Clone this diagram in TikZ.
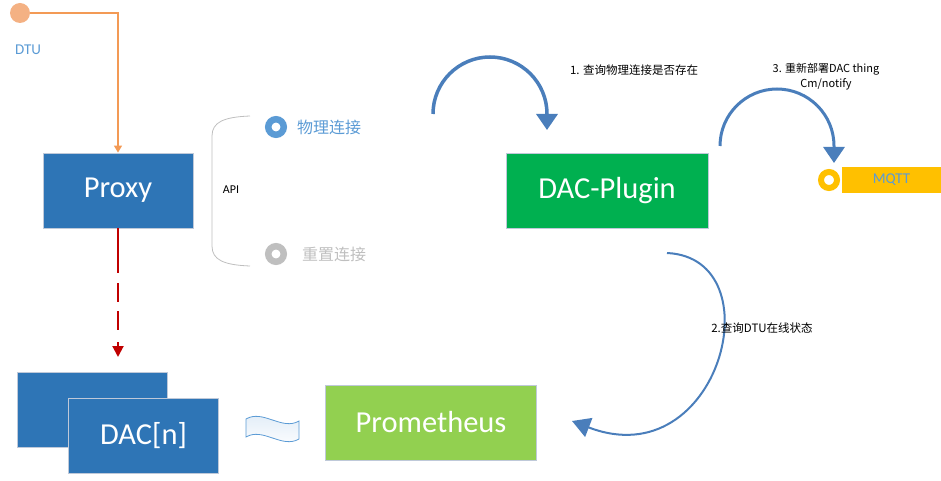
\documentclass[tikz,border=0pt]{standalone}
\usepackage{fontspec}
\setmainfont{Carlito}
\newfontfamily\cjk{Noto Sans CJK SC}
\usetikzlibrary{arrows.meta}
\usetikzlibrary{positioning}
\definecolor{boxblue}{HTML}{2E75B6}
\definecolor{boxedge}{HTML}{BFC9D9}
\definecolor{plugingreen}{HTML}{00B050}
\definecolor{promgreen}{HTML}{92D050}
\definecolor{arcblue}{HTML}{4A7EBB}
\definecolor{textblue}{HTML}{5B9BD5}
\definecolor{lightgray}{HTML}{BFBFBF}
\definecolor{dtuorange}{HTML}{F4B183}
\definecolor{lineorange}{HTML}{F39A55}
\definecolor{darkred}{HTML}{C00000}
\definecolor{mqttyellow}{HTML}{FFC000}
\tikzset{box/.style = {draw = boxedge, line width = 0.8, minimum width = 150, minimum height = 75, inner sep = 0, text = white, font = \fontsize{30.5}{36}\selectfont}}
\tikzset{ring/.style = {circle, inner sep = 0, minimum size = 15.5, line width = 6.5}}
\tikzset{bigarc/.style = {draw = arcblue, line width = 3.5, -{Triangle[length = 16pt, width = 21pt]}}}
\tikzset{note/.style = {inner sep = 0, font = \cjk\fontsize{11.5}{14}\selectfont}}

\begin{document}
\begin{tikzpicture}[x = 1pt, y = -1pt]

      \useasboundingbox (0, 0) rectangle (941, 481);

      \node [circle, fill = dtuorange, inner sep = 0, minimum size = 20] (dtu) at (20, 13) {};
      \node [inner sep = 0, text = textblue, font = \fontsize{15}{18}\selectfont] (dtulabel) at (28, 50) {DTU};

      \node [box, fill = boxblue] (proxy) at (118, 190.5) {Proxy};
      \node [box, fill = boxblue] (dacback) at (92, 409.5) {};
      \node [box, fill = boxblue] (dac) at (143.5, 435.5) {DAC[n]};
      \node [box, fill = promgreen, minimum width = 211] (prom) at (431, 422.5) {Prometheus};
      \node [box, fill = plugingreen, minimum width = 202] (plugin) at (607, 190.5) {DAC-Plugin};

      \coordinate (dacin) at (118, 357);
      \draw [lineorange, line width = 1.2, -{Triangle[length = 7pt, width = 8pt]}] (dtu.east) -| (proxy.north);
      \draw [darkred, line width = 2, dash pattern = on 45pt off 10pt on 19pt off 9pt on 19pt off 12pt, -{Triangle[length = 11pt, width = 11pt]}] (proxy.south) -- (dacin);

      \draw [draw = lightgray, line width = 0.8] (250, 116) .. controls (224, 117) and (212, 122) .. (212, 136) -- (212, 246) .. controls (212, 260) and (224, 265) .. (250, 266);
      \node [inner sep = 0, font = \fontsize{12}{14}\selectfont] (api) at (231, 190) {API};
      \node [ring, draw = textblue] (phys) at (276, 127) {};
      \node [inner sep = 0, text = textblue, font = \cjk\fontsize{16}{19}\selectfont, right = 10pt of phys] (physlabel) {物理连接};
      \node [ring, draw = lightgray] (reset) at (276, 254) {};
      \node [inner sep = 0, text = lightgray, font = \cjk\fontsize{16}{19}\selectfont, right = 15pt of reset] (resetlabel) {重置连接};

      \draw [draw = textblue, line width = 0.8, top color = textblue!20, bottom color = white] (246, 419) .. controls (263, 409) and (282, 431) .. (299, 421) -- (299, 439) .. controls (282, 449) and (263, 427) .. (246, 437) -- cycle;

      \node [ring, draw = mqttyellow, minimum size = 16, line width = 6] (mqtt) at (829, 180) {};
      \node [fill = mqttyellow, inner sep = 0, minimum width = 99, minimum height = 25, text = textblue, font = \fontsize{15}{18}\selectfont] (mqttbar) at (891.5, 180) {MQTT};

      \coordinate (arc1) at (433, 114);
      \coordinate (arc3) at (720, 146);
      \coordinate (arc2s) at (667, 253);
      \coordinate (arc2e) at (572, 421);
      \draw [bigarc] (arc1) arc [start angle = 180, end angle = 360, radius = 57] -- ++(0, 16);
      \draw [bigarc, line width = 3] (arc3) arc [start angle = 180, end angle = 360, radius = 57] -- ++(0, 17);
      \draw [draw = arcblue, line width = 2, -{Triangle[length = 18pt, width = 20pt]}] (arc2s) .. controls (776, 258) and (720, 478) .. (arc2e);

      \node [note] (step1) at (634, 70) {1. 查询物理连接是否存在};
      \node [note, align = center, font = \cjk\fontsize{11}{15}\selectfont] (step3) at (826, 77) {3. 重新部署DAC thing\\Cm/notify};
      \node [note] (step2) at (762, 328) {2.查询DTU在线状态};

    \end{tikzpicture}
\end{document}
